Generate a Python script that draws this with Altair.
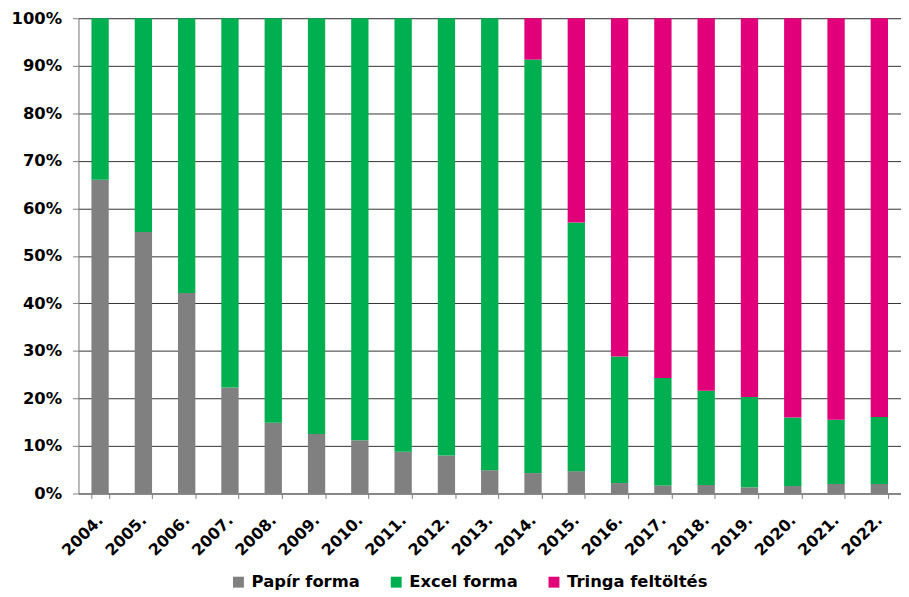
import altair as alt
import pandas as pd

years = ["2004.", "2005.", "2006.", "2007.", "2008.", "2009.", "2010.", "2011.", "2012.", "2013.",
         "2014.", "2015.", "2016.", "2017.", "2018.", "2019.", "2020.", "2021.", "2022."]
series = ["Papír forma", "Excel forma", "Tringa feltöltés"]
colors = ["#808080", "#00B050", "#E2007A"]

papir = [66.0, 55.0, 42.2, 22.3, 14.9, 12.5, 11.2, 8.8, 8.0, 4.9, 4.3, 4.7, 2.2, 1.7, 1.8, 1.3, 1.6, 2.0, 2.0]
excel = [34.0, 45.0, 57.8, 77.7, 85.1, 87.5, 88.8, 91.2, 92.0, 95.1, 87.0, 52.3, 26.6, 22.6, 19.8, 19.0, 14.4, 13.5, 14.1]
tringa = [0, 0, 0, 0, 0, 0, 0, 0, 0, 0, 8.7, 43.0, 71.2, 75.7, 78.4, 79.7, 84.0, 84.5, 83.9]

rows = []
for i, y in enumerate(years):
    for k, (name, vals) in enumerate(zip(series, [papir, excel, tringa])):
        rows.append({"year": y, "series": name, "value": vals[i], "order": k})
df = pd.DataFrame(rows)

FONT = "DejaVu Sans"

chart = alt.Chart(df).mark_bar().encode(
    x=alt.X("year:N", sort=years, title=None,
            scale=alt.Scale(paddingInner=0.6, paddingOuter=0.3),
            axis=alt.Axis(labelAngle=-45, labelAlign="right", labelBaseline="middle",
                          labelFont=FONT, labelFontWeight="bold", labelFontSize=16,
                          labelColor="black", labelPadding=19, tickBand="extent",
                          tickSize=5, tickColor="#808080", domainColor="#808080")),
    y=alt.Y("value:Q", stack="normalize", title=None,
            scale=alt.Scale(domain=[0, 1], nice=False),
            axis=alt.Axis(format=".0%", values=[i / 10 for i in range(11)],
                          labelFont=FONT, labelFontWeight="bold", labelFontSize=16.5,
                          labelColor="black", labelPadding=11, tickSize=6,
                          tickColor="#808080", domainColor="#808080",
                          grid=True, gridColor="#333333", gridWidth=1)),
    color=alt.Color("series:N", sort=series,
                    scale=alt.Scale(domain=series, range=colors),
                    legend=alt.Legend(title=None, orient="none", direction="horizontal",
                                      legendX=153, legendY=560,
                                      symbolType="square", symbolSize=121,
                                      symbolStrokeWidth=0,
                                      labelFont=FONT, labelFontWeight="bold",
                                      labelFontSize=16.5, labelColor="black",
                                      columnPadding=28, labelOffset=5)),
    order=alt.Order("order:Q", sort="ascending"),
).properties(
    width=829, height=479,
    autosize=alt.AutoSizeParams(type="none"),
    padding={"left": 71, "top": 8, "right": 0, "bottom": 100},
).configure_view(stroke=None).configure(background="white")

chart.save("out.html", embed_options={"renderer": "svg", "actions": False})
